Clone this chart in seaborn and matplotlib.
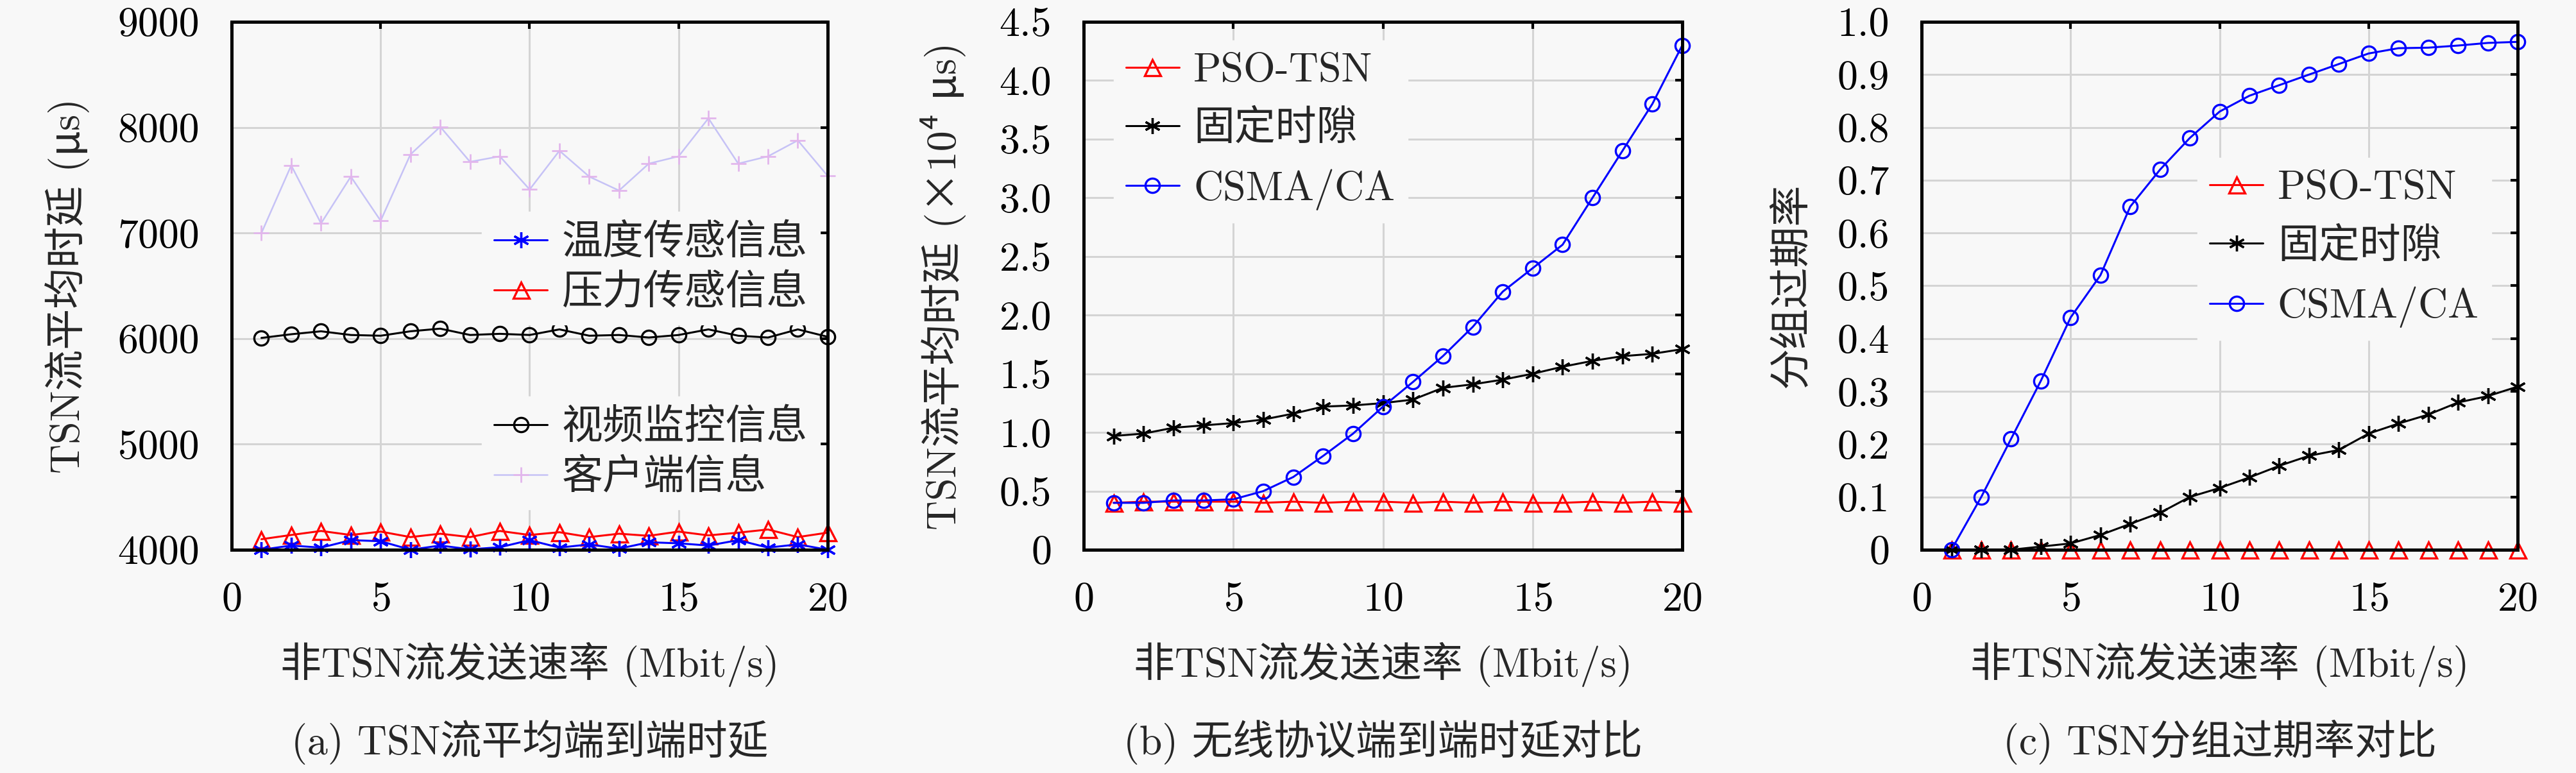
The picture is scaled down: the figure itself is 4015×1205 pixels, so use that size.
import numpy as np
import matplotlib
matplotlib.use("Agg")
import matplotlib.pyplot as plt
import seaborn as sns
from matplotlib.ticker import FuncFormatter

# ---------------- datos ----------------
rate = list(range(1, 21))

# (a) retardo medio por tipo de flujo (us)
temp_delay = [4000, 4040, 4020, 4091, 4081, 4000, 4040, 4004, 4024, 4091,
              4020, 4051, 4010, 4071, 4061, 4040, 4091, 4020, 4051, 4000]
press_delay = [4100, 4140, 4178, 4140, 4172, 4120, 4152, 4120, 4178, 4140,
               4166, 4120, 4152, 4132, 4172, 4136, 4162, 4192, 4120, 4162]
video_delay = [6006, 6041, 6069, 6034, 6027, 6069, 6094, 6034, 6045, 6034,
               6087, 6027, 6034, 6010, 6034, 6087, 6027, 6010, 6087, 6017]
client_delay = [7000, 7640, 7091, 7534, 7116, 7744, 8006, 7674, 7726, 7412,
                7779, 7534, 7402, 7657, 7726, 8086, 7657, 7726, 7877, 7541]
labels_a = ["温度传感信息", "压力传感信息", "视频监控信息", "客户端信息"]

# (b) retardo por protocolo (x10^4 us)
pso_delay = [0.40, 0.41, 0.41, 0.41, 0.41, 0.40, 0.41, 0.40, 0.41, 0.41,
             0.40, 0.41, 0.40, 0.41, 0.40, 0.40, 0.41, 0.40, 0.41, 0.40]
fixed_delay = [0.97, 0.99, 1.04, 1.06, 1.08, 1.11, 1.16, 1.22, 1.23, 1.25,
               1.28, 1.38, 1.41, 1.45, 1.50, 1.56, 1.61, 1.65, 1.67, 1.71]
csma_delay = [0.40, 0.40, 0.42, 0.42, 0.43, 0.50, 0.62, 0.80, 0.99, 1.22,
              1.43, 1.65, 1.90, 2.20, 2.40, 2.60, 3.00, 3.40, 3.80, 4.30]

# (c) tasa de paquetes caducados
pso_exp = [0] * 20
fixed_exp = [0, 0, 0, 0.006, 0.012, 0.028, 0.049, 0.07, 0.10, 0.117,
             0.137, 0.159, 0.178, 0.189, 0.22, 0.239, 0.256, 0.279, 0.291, 0.309]
csma_exp = [0, 0.10, 0.21, 0.32, 0.44, 0.52, 0.65, 0.72, 0.78, 0.83,
            0.86, 0.88, 0.90, 0.92, 0.94, 0.95, 0.951, 0.955, 0.96, 0.962]
labels_bc = ["PSO-TSN", "固定时隙", "CSMA/CA"]

xlabel = "非TSN流发送速率 (Mbit/s)"
ylabels = ["TSN流平均时延 (μs)", "TSN流平均时延 (×10⁴ μs)", "分组过期率"]
captions = ["(a) TSN流平均端到端时延", "(b) 无线协议端到端时延对比", "(c) TSN分组过期率对比"]

# ---------------- estilo ----------------
BG = "#f8f8f8"
FS = 46
sns.set_theme(style="white")
plt.rcParams["font.family"] = ["cmr10", "Noto Sans CJK SC", "DejaVu Serif"]
plt.rcParams["mathtext.fontset"] = "cm"
plt.rcParams["axes.formatter.use_mathtext"] = True
plt.rcParams["axes.unicode_minus"] = False

ASTER = (6, 2, 0)
LW = 2.2


def linea(ax, y, color, marker, label, ms=16, lw=LW, mec=None, mew=2.4):
    sns.lineplot(x=rate, y=y, ax=ax, color=color, marker=marker, markersize=ms,
                 markerfacecolor="none", markeredgecolor=mec or color,
                 markeredgewidth=mew, linewidth=lw, label=label, legend=False,
                 clip_on=False)


def preparar(ax, ylim, yticks, fmt, ylabel, ylab_x):
    ax.set_facecolor(BG)
    ax.set_xlim(0, 20)
    ax.set_ylim(*ylim)
    ax.set_xticks([0, 5, 10, 15, 20])
    ax.set_yticks(yticks)
    ax.yaxis.set_major_formatter(FuncFormatter(fmt))
    ax.grid(True, color="#d4d4d4", linewidth=2.2)
    ax.set_axisbelow(True)
    for sp in ax.spines.values():
        sp.set_color("black")
        sp.set_linewidth(3.6)
    ax.tick_params(direction="in", length=8, width=3, top=True, right=True,
                   labelsize=FS, pad=36, colors="black")
    ax.set_xlabel(xlabel, fontsize=FS)
    ax.xaxis.set_label_coords(0.5, -0.175)
    ax.set_ylabel(ylabel, fontsize=FS)
    ax.yaxis.set_label_coords(ylab_x, 0.5)


def leyenda(ax, handles, labels, anchor, spacing):
    leg = ax.legend(handles, labels, loc="upper left", bbox_to_anchor=anchor,
                    fontsize=FS, frameon=True, facecolor=BG, edgecolor=BG,
                    framealpha=1, handlelength=1.3, handletextpad=0.35,
                    labelspacing=spacing, borderpad=0.3, borderaxespad=0,
                    fancybox=False)
    return leg


fig = plt.figure(figsize=(40.16, 12.05), dpi=100, facecolor=BG)
ax1 = fig.add_axes([0.0899, 0.2888, 0.2313, 0.683])
ax2 = fig.add_axes([0.4206, 0.2888, 0.2323, 0.683])
ax3 = fig.add_axes([0.7458, 0.2888, 0.2313, 0.683])

# ---- (a) ----
linea(ax1, client_delay, "#c6c2f6", "+", labels_a[3], ms=17, lw=1.8, mec="#e2b6ec", mew=2)
linea(ax1, video_delay, "black", "o", labels_a[2])
linea(ax1, press_delay, "#ff0000", "^", labels_a[1], ms=18)
linea(ax1, temp_delay, "#0000ff", ASTER, labels_a[0], ms=18)
preparar(ax1, (4000, 9000), range(4000, 9001, 1000), lambda v, p: f"{v:.0f}",
         ylabels[0], -0.238)
h, l = ax1.get_legend_handles_labels()
d = dict(zip(l, h))
leg1 = leyenda(ax1, [d[labels_a[0]], d[labels_a[1]]], labels_a[:2], (0.42, 0.64), 0.28)
ax1.add_artist(leg1)
leyenda(ax1, [d[labels_a[2]], d[labels_a[3]]], labels_a[2:], (0.42, 0.29), 0.28)

fmt_dec = lambda v, p: "0" if abs(v) < 1e-9 else f"{v:.1f}"

# ---- (b) ----
linea(ax2, pso_delay, "#ff0000", "^", labels_bc[0], ms=18)
linea(ax2, fixed_delay, "black", ASTER, labels_bc[1], ms=18)
linea(ax2, csma_delay, "#0000ff", "o", labels_bc[2])
preparar(ax2, (0, 4.5), np.arange(0, 4.51, 0.5), fmt_dec, ylabels[1], -0.196)
h, l = ax2.get_legend_handles_labels()
leyenda(ax2, h, l, (0.05, 0.965), 0.5)

# ---- (c) ----
linea(ax3, pso_exp, "#ff0000", "^", labels_bc[0], ms=18)
linea(ax3, fixed_exp, "black", ASTER, labels_bc[1], ms=18)
linea(ax3, csma_exp, "#0000ff", "o", labels_bc[2])
preparar(ax3, (0, 1.0), np.arange(0, 1.001, 0.1), fmt_dec, ylabels[2], -0.185)
h, l = ax3.get_legend_handles_labels()
leyenda(ax3, h, l, (0.463, 0.742), 0.5)

for ax, cap in zip([ax1, ax2, ax3], captions):
    ax.text(0.5, -0.3645, cap, transform=ax.transAxes, ha="center", va="center",
            fontsize=FS)

fig.savefig("out.png", dpi=100, facecolor=BG)
